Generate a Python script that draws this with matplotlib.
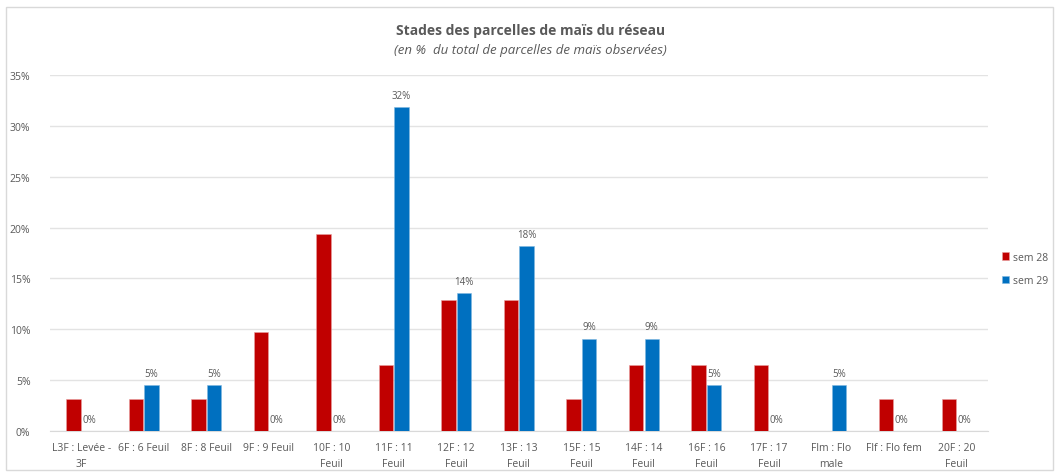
import numpy as np
import matplotlib.pyplot as plt
from matplotlib.patches import Rectangle

plt.rcParams['font.family'] = ['Open Sans', 'DejaVu Sans']

categories = ['L3F : Levée -\n3F', '6F : 6 Feuil', '8F : 8 Feuil', '9F : 9 Feuil',
              '10F : 10\nFeuil', '11F : 11\nFeuil', '12F : 12\nFeuil', '13F : 13\nFeuil',
              '15F : 15\nFeuil', '14F : 14\nFeuil', '16F : 16\nFeuil', '17F : 17\nFeuil',
              'Flm : Flo\nmale', 'Flf : Flo fem', '20F : 20\nFeuil']
sem28 = [3.2, 3.2, 3.2, 9.7, 19.4, 6.5, 12.9, 12.9, 3.2, 6.5, 6.5, 6.5, np.nan, 3.2, 3.2]
sem29 = [0, 4.55, 4.55, 0, 0, 31.8, 13.6, 18.2, 9.1, 9.1, 4.55, 0, 4.55, 0, 0]

red = '#C00000'
blue = '#0070C0'
txt = '#595959'

fig = plt.figure(figsize=(10.61, 4.77), dpi=100)
fig.patches.append(Rectangle((0.006, 0.012), 0.986, 0.972, transform=fig.transFigure,
                             fill=False, edgecolor='#D9D9D9', lw=1))
ax = fig.add_axes([0.047, 0.094, 0.884, 0.747])

x = np.arange(len(categories))
w = 0.23
ax.bar(x - 0.125, sem28, w, color=red, edgecolor='#E8A0A0', lw=0.4, label='sem 28', zorder=3)
ax.bar(x + 0.125, sem29, w, color=blue, edgecolor='#80B8E0', lw=0.4, label='sem 29', zorder=3)

for xi, v in zip(x, sem29):
    ax.text(xi + 0.125, v + 0.6, f'{v:.0f}%', ha='center', va='bottom', fontsize=7, color=txt)

ax.set_ylim(0, 35)
ax.set_xlim(-0.5, len(categories) - 0.5)
ax.set_yticks(range(0, 36, 5))
ax.set_yticklabels([f'{t}%' for t in range(0, 36, 5)])
ax.set_xticks(x)
ax.set_xticklabels(categories, linespacing=1.6)
ax.tick_params(length=0, labelsize=7.5, colors=txt)
ax.tick_params(axis='x', pad=8)
ax.tick_params(axis='y', pad=14)
ax.grid(axis='y', color='#E3E3E3', lw=1, zorder=0)
for s in ['top', 'right', 'left']:
    ax.spines[s].set_visible(False)
ax.spines['bottom'].set_color('#D9D9D9')

fig.text(0.5, 0.935, 'Stades des parcelles de maïs du réseau', ha='center', va='center',
         fontsize=10, fontweight='bold', color=txt)
fig.text(0.5, 0.895, '(en %  du total de parcelles de maïs observées)', ha='center', va='center',
         fontsize=9.5, style='italic', color=txt)

ax.legend(loc='center left', bbox_to_anchor=(1.005, 0.455), frameon=False, fontsize=7.5,
          labelcolor=txt, handlelength=0.7, handleheight=0.7, handletextpad=0.4, labelspacing=1.2)

fig.savefig('out.png', dpi=100)
